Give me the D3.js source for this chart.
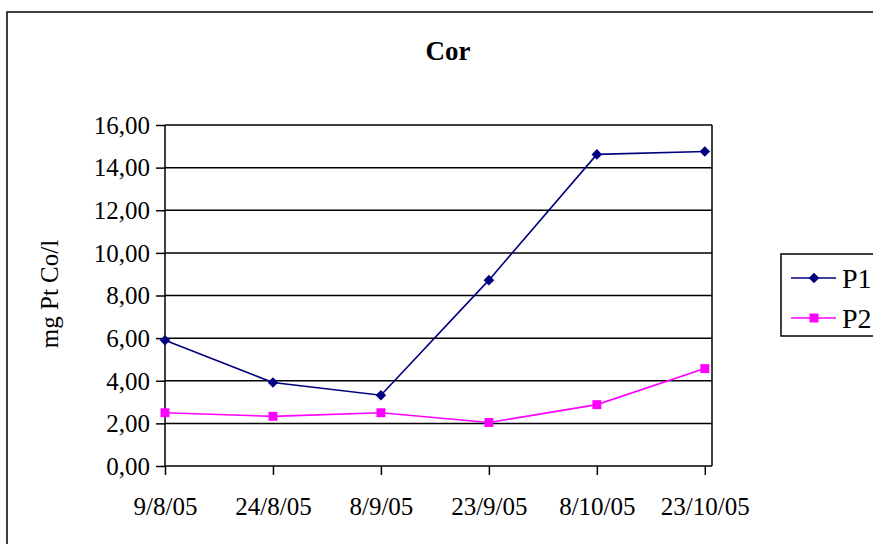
<!DOCTYPE html>
<html><head><meta charset="utf-8">
<script src="https://cdn.jsdelivr.net/npm/d3@7"></script>
<style>body{margin:0;background:#fff}svg{display:block}</style>
</head><body><svg id="c" width="873" height="544"></svg>
<script>
const dates = ["2005-08-09","2005-08-24","2005-09-08","2005-09-23","2005-10-08","2005-10-23"];
const tickLabels = ["9/8/05","24/8/05","8/9/05","23/9/05","8/10/05","23/10/05"];
const p1 = [5.9, 3.92, 3.32, 8.72, 14.62, 14.76];
const p2 = [2.5, 2.33, 2.5, 2.04, 2.88, 4.57];
const yTicks = [0,2,4,6,8,10,12,14,16];
const seriesNames = ["P1","P2"];
const colors = ["#000080","#FF00FF"];

const parse = d3.timeParse("%Y-%m-%d");
const dts = dates.map(parse);
const svg = d3.select("#c");
const font = "'Liberation Serif','Times New Roman',serif";
const L=165, R=712, T=125, B=466;
const x = d3.scaleTime().domain([parse("2005-08-09"), parse("2005-10-24")]).range([L,R]);
const y = d3.scaleLinear().domain([0,16]).range([B,T]);

// outer border
svg.append("rect").attr("x",7).attr("y",12).attr("width",880).attr("height",560)
  .attr("fill","none").attr("stroke","#000").attr("stroke-width",1.5);

svg.append("text").attr("x",448).attr("y",60).attr("text-anchor","middle")
  .attr("font-family",font).attr("font-weight","bold").attr("font-size",27).text("Cor");

// gridlines
svg.append("g").selectAll("line").data(yTicks.filter(d=>d>0)).join("line")
  .attr("x1",L).attr("x2",R).attr("y1",d=>y(d)).attr("y2",d=>y(d))
  .attr("stroke","#000").attr("stroke-width",1.5);
svg.append("line").attr("x1",R).attr("x2",R).attr("y1",T).attr("y2",B).attr("stroke","#000").attr("stroke-width",1.5);

// y axis
const ya = svg.append("g").attr("transform",`translate(${L},0)`)
  .call(d3.axisLeft(y).tickValues(yTicks).tickSize(9).tickPadding(6).tickFormat(d=>d3.format(".2f")(d).replace(".",",")));
ya.select(".domain").attr("stroke","#000").attr("stroke-width",1.5).attr("d",`M0,${T}V${B}`);
ya.selectAll(".tick line").attr("stroke","#000").attr("stroke-width",1.5);
ya.selectAll("text").attr("font-family",font).attr("font-size",25).attr("fill","#000").attr("dy","0.33em");

// x axis
const xa = svg.append("g").attr("transform",`translate(0,${B})`)
  .call(d3.axisBottom(x).tickValues(dts).tickSize(9).tickPadding(22).tickFormat((d,i)=>tickLabels[i]));
xa.select(".domain").attr("stroke","#000").attr("stroke-width",1.5).attr("d",`M${L},0H${R}`);
xa.selectAll(".tick line").attr("stroke","#000").attr("stroke-width",1.5);
xa.selectAll("text").attr("font-family",font).attr("font-size",25).attr("fill","#000");

svg.append("text").attr("transform","translate(58,294) rotate(-90)").attr("text-anchor","middle")
  .attr("font-family",font).attr("font-size",25).text("mg Pt Co/l");

const line = d3.line().x((d,i)=>x(dts[i])).y(d=>y(d));
const diamond = d3.symbol().type(d3.symbolSquare).size(56);
const square = d3.symbol().type(d3.symbolSquare).size(80);
const rot = k => k===0 ? " rotate(45)" : "";
[p1,p2].forEach((s,k)=>{
  svg.append("path").datum(s).attr("d",line).attr("fill","none").attr("stroke",colors[k]).attr("stroke-width",1.6);
  svg.append("g").selectAll("path").data(s).join("path")
    .attr("transform",(d,i)=>`translate(${x(dts[i])},${y(d)})`+rot(k))
    .attr("d",k===0?diamond:square).attr("fill",colors[k]);
});

// legend
const lg = svg.append("g");
lg.append("rect").attr("x",781).attr("y",254).attr("width",100).attr("height",82)
  .attr("fill","#fff").attr("stroke","#000").attr("stroke-width",1.5);
seriesNames.forEach((n,k)=>{
  const yy = 278 + k*40;
  lg.append("line").attr("x1",791).attr("x2",836).attr("y1",yy).attr("y2",yy).attr("stroke",colors[k]).attr("stroke-width",1.6);
  lg.append("path").attr("transform",`translate(814,${yy})`+rot(k)).attr("d",k===0?diamond:square).attr("fill",colors[k]);
  lg.append("text").attr("x",842).attr("y",yy).attr("dy","0.35em").attr("font-family",font).attr("font-size",28).text(n);
});
</script></body></html>
